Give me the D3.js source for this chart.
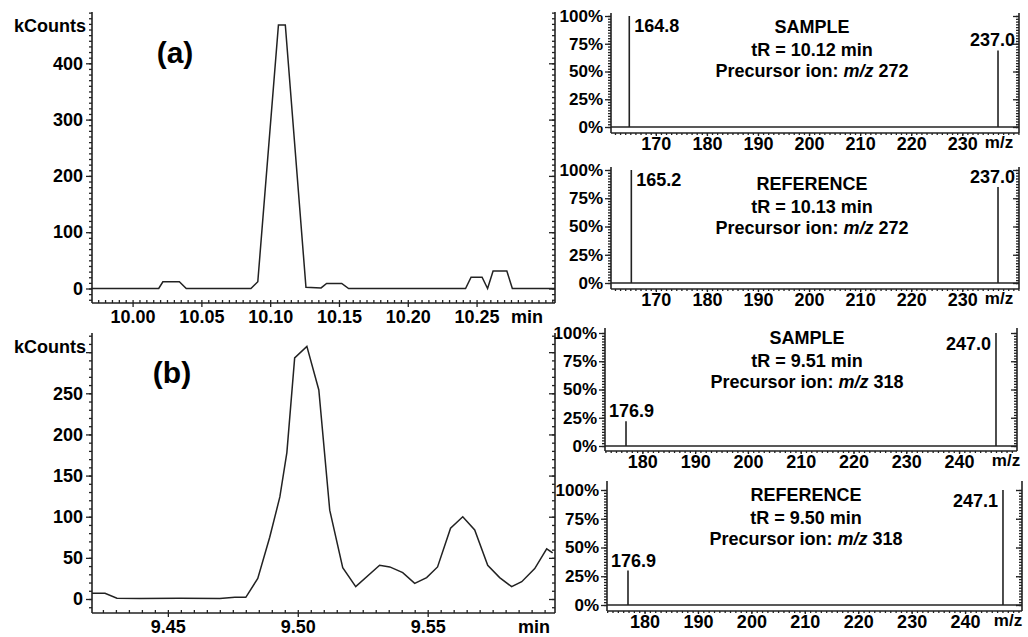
<!DOCTYPE html>
<html lang="en">
<head>
<meta charset="UTF-8">
<title>Chromatograms and MS/MS spectra</title>
<script src="https://d3js.org/d3.v7.min.js"></script>
<style>
  body { margin: 0; background: #fff; }
  svg { font-family: "Liberation Sans", Arial, sans-serif; font-weight: bold; }
  .axis text { font-size: 18px; font-weight: bold; fill: #000; font-family: "Liberation Sans", Arial, sans-serif; }
  .axis line { stroke: #222; stroke-width: 1.3; }
  .pct text { font-size: 17px; }
  .spine { stroke: #222; stroke-width: 1.6; }
  .trace { fill: none; stroke: #222; stroke-width: 1.5; }
  .stick { stroke: #222; stroke-width: 1.6; }
  .lbl { font-size: 18px; fill: #000; }
</style>
</head>
<body>
<svg id="chart" width="1028" height="637"></svg>
<script>
// ---- chromatogram (a) ----
const chromA_time = [9.970, 10.019, 10.022, 10.034, 10.039, 10.086, 10.091, 10.106, 10.111, 10.126,
                     10.137, 10.141, 10.152, 10.157, 10.242, 10.246, 10.254, 10.258, 10.262, 10.272, 10.276, 10.307];
const chromA_kcounts = [0, 0, 12, 12, 0, 0, 12, 468, 468, 2,
                        1, 9, 9, 0, 0, 20, 20, 0, 31, 31, 0, 0];
const chromA_xticks = [10.00, 10.05, 10.10, 10.15, 10.20, 10.25];
const chromA_yticks = [0, 100, 200, 300, 400];

// ---- chromatogram (b) ----
const chromB_time = [9.4208, 9.4258, 9.4304, 9.4392, 9.4546, 9.4700, 9.4758, 9.4800, 9.4846, 9.4892,
                     9.4931, 9.4958, 9.4988, 9.5035, 9.5081, 9.5123, 9.5173, 9.5223, 9.5315, 9.5354,
                     9.5404, 9.5450, 9.5496, 9.5538, 9.5588, 9.5635, 9.5681, 9.5731, 9.5777, 9.5823,
                     9.5862, 9.5912, 9.5958, 9.5981];
const chromB_kcounts = [7, 7, 1, 0.5, 1, 0.5, 2, 2, 25, 75,
                        124, 178, 293, 307, 254, 108, 38, 15, 41, 39,
                        32, 19, 26, 39, 86, 100, 84, 41, 26, 15,
                        21, 37, 61, 56];
const chromB_xticks = [9.45, 9.50, 9.55];
const chromB_yticks = [0, 50, 100, 150, 200, 250, 300];

// ---- MS/MS spectra ----
const spec1_mz = [164.8, 237.0], spec1_int = [100, 69];
const spec2_mz = [165.2, 237.0], spec2_int = [100, 85];
const spec3_mz = [176.9, 247.0], spec3_int = [22, 100];
const spec4_mz = [176.9, 247.1], spec4_int = [30, 100];
const specA_xticks = [170, 180, 190, 200, 210, 220, 230];
const specB_xticks = [180, 190, 200, 210, 220, 230, 240];
const spec_yticks = [0, 25, 50, 75, 100];
const spec1_text = ["SAMPLE", "tR = 10.12 min", "272"];
const spec2_text = ["REFERENCE", "tR = 10.13 min", "272"];
const spec3_text = ["SAMPLE", "tR = 9.51 min", "318"];
const spec4_text = ["REFERENCE", "tR = 9.50 min", "318"];

const svg = d3.select("#chart");

function line(g, x1, y1, x2, y2) {
  g.append("line").attr("class", "spine")
    .attr("x1", x1).attr("y1", y1).attr("x2", x2).attr("y2", y2);
}

function stripDomain(sel) { sel.select(".domain").remove(); }

function drawChrom(o, times, vals, xticks, yticks, tag) {
  const g = svg.append("g");
  const x = d3.scaleLinear().domain(o.xDomain).range([o.L, o.R]);
  const y = d3.scaleLinear().domain([0, o.yRef]).range([o.zeroY, o.yRefPx]);
  const yTop = y.invert(o.T), yBot = y.invert(o.B);

  // minor ticks
  g.append("g").attr("class", "axis").attr("transform", `translate(${o.L},0)`)
    .call(d3.axisLeft(y).tickValues(d3.range(Math.ceil(yBot / 10) * 10, yTop, 10)).tickFormat("").tickSize(3))
    .call(stripDomain);
  g.append("g").attr("class", "axis").attr("transform", `translate(${o.R},0)`)
    .call(d3.axisRight(y).tickValues(d3.range(Math.ceil(yBot / 10) * 10, yTop, 10)).tickFormat("").tickSize(-3))
    .call(stripDomain);
  g.append("g").attr("class", "axis").attr("transform", `translate(0,${o.B})`)
    .call(d3.axisBottom(x).tickValues(d3.range(Math.ceil(o.xDomain[0] / 0.005) * 0.005, o.xDomain[1], 0.005)).tickFormat("").tickSize(-3))
    .call(stripDomain);

  // major ticks + labels
  g.append("g").attr("class", "axis").attr("transform", `translate(${o.L},0)`)
    .call(d3.axisLeft(y).tickValues(yticks).tickFormat(d => d > o.maxLabel ? "" : d).tickSize(6).tickPadding(3))
    .call(stripDomain);
  g.append("g").attr("class", "axis").attr("transform", `translate(${o.R},0)`)
    .call(d3.axisRight(y).tickValues(yticks).tickFormat("").tickSize(-6))
    .call(stripDomain);
  g.append("g").attr("class", "axis").attr("transform", `translate(0,${o.B})`)
    .call(d3.axisBottom(x).tickValues(xticks).tickFormat(d3.format(".2f")).tickSize(4).tickPadding(3))
    .call(stripDomain);

  line(g, o.L, o.T, o.L, o.B);
  line(g, o.R, o.T, o.R, o.B);
  line(g, o.L, o.B, o.R, o.B);

  g.append("path").attr("class", "trace")
    .attr("d", d3.line().x((d, i) => x(times[i])).y(d => y(d))(vals));

  g.append("text").attr("class", "lbl").attr("x", o.L - 6).attr("y", o.T + 20)
    .attr("text-anchor", "end").text("kCounts");
  g.append("text").attr("class", "lbl").attr("x", o.minX).attr("y", o.B + 20)
    .attr("text-anchor", "middle").text("min");
  g.append("text").attr("x", o.tagX).attr("y", o.tagY).attr("text-anchor", "middle")
    .style("font-size", "30px").text(tag);
}

function drawSpec(o, mz, inten, xticks, texts, places) {
  const g = svg.append("g");
  const x = d3.scaleLinear().domain(o.xDomain).range([o.L, o.R]);
  const y = d3.scaleLinear().domain([0, 100]).range([o.zeroY, o.fullY]);

  // minor ticks
  const minorY = d3.range(0, 100.1, 2.5);
  g.append("g").attr("class", "axis").attr("transform", `translate(${o.L},0)`)
    .call(d3.axisLeft(y).tickValues(minorY).tickFormat("").tickSize(3)).call(stripDomain);
  g.append("g").attr("class", "axis").attr("transform", `translate(${o.R},0)`)
    .call(d3.axisRight(y).tickValues(minorY).tickFormat("").tickSize(-3)).call(stripDomain);
  g.append("g").attr("class", "axis").attr("transform", `translate(0,${o.B})`)
    .call(d3.axisBottom(x).tickValues(d3.range(Math.ceil(o.xDomain[0]), o.xDomain[1], 1)).tickFormat("").tickSize(2))
    .call(stripDomain);

  // major ticks + labels
  g.append("g").attr("class", "axis pct").attr("transform", `translate(${o.L},0)`)
    .call(d3.axisLeft(y).tickValues(spec_yticks).tickFormat(d => d + "%").tickSize(6).tickPadding(2))
    .call(stripDomain);
  g.append("g").attr("class", "axis").attr("transform", `translate(${o.R},0)`)
    .call(d3.axisRight(y).tickValues(spec_yticks).tickFormat("").tickSize(-6)).call(stripDomain);
  g.append("g").attr("class", "axis").attr("transform", `translate(0,${o.B})`)
    .call(d3.axisBottom(x).tickValues(xticks).tickSize(3).tickPadding(1))
    .call(stripDomain);

  line(g, o.L, o.T, o.L, o.B);
  line(g, o.R, o.T, o.R, o.B);
  line(g, o.L, o.B, o.R, o.B);
  line(g, o.L, y(0), o.R, y(0));

  g.append("text").attr("class", "lbl").attr("x", o.mzX).attr("y", o.B + 15)
    .attr("text-anchor", "middle").style("font-size", "17px").text("m/z");

  mz.forEach((m, i) => {
    const px = x(m), top = y(inten[i]);
    g.append("line").attr("class", "stick")
      .attr("x1", px).attr("x2", px).attr("y1", y(0)).attr("y2", top);
    const t = g.append("text").attr("class", "lbl").text(m.toFixed(1));
    const w = t.node().getComputedTextLength();
    let tx, ty;
    if (places[i] === "right") { tx = px + 5; ty = top + 16; }
    else if (places[i] === "left") { tx = px - 5 - w; ty = top + 17; }
    else {
      tx = Math.max(o.L + 4, Math.min(o.R - 4 - w, px - w / 2));
      ty = top - 4;
    }
    t.attr("x", tx).attr("y", ty);
  });

  const cx = o.textX;
  g.append("text").attr("class", "lbl").attr("x", cx).attr("y", o.textY)
    .attr("text-anchor", "middle").text(texts[0]);
  g.append("text").attr("class", "lbl").attr("x", cx).attr("y", o.textY + 23)
    .attr("text-anchor", "middle").text(texts[1]);
  const p = g.append("text").attr("class", "lbl").attr("x", cx).attr("y", o.textY + 44)
    .attr("text-anchor", "middle");
  p.append("tspan").text("Precursor ion: ");
  p.append("tspan").style("font-style", "italic").text("m/z");
  p.append("tspan").text(" " + texts[2]);
}

drawChrom({ xDomain: [9.9705, 10.307], L: 92, R: 555, T: 12, B: 303,
            yRef: 400, zeroY: 288.5, yRefPx: 63.3, maxLabel: 400, minX: 527, tagX: 175, tagY: 63 },
          chromA_time, chromA_kcounts, chromA_xticks, chromA_yticks, "(a)");
drawChrom({ xDomain: [9.4208, 9.599], L: 92, R: 555, T: 333, B: 613,
            yRef: 250, zeroY: 599, yRefPx: 393.3, maxLabel: 250, minX: 534, tagX: 172, tagY: 383 },
          chromB_time, chromB_kcounts, chromB_xticks, chromB_yticks, "(b)");

drawSpec({ xDomain: [161.22, 241.11], L: 611, R: 1019, T: 13, B: 133, zeroY: 127, fullY: 16,
           mzX: 999, textX: 812, textY: 33 },
         spec1_mz, spec1_int, specA_xticks, spec1_text, ["right", "above"]);
drawSpec({ xDomain: [161.22, 241.11], L: 611, R: 1019, T: 167, B: 289, zeroY: 283, fullY: 170,
           mzX: 999, textX: 812, textY: 190 },
         spec2_mz, spec2_int, specA_xticks, spec2_text, ["right", "above"]);
drawSpec({ xDomain: [172.92, 250.98], L: 605, R: 1017, T: 328, B: 451, zeroY: 446, fullY: 333,
           mzX: 1006, textX: 807, textY: 344 },
         spec3_mz, spec3_int, specB_xticks, spec3_text, ["above", "left"]);
drawSpec({ xDomain: [172.97, 250.66], L: 607, R: 1022, T: 481, B: 611, zeroY: 605, fullY: 490,
           mzX: 1008, textX: 806, textY: 501 },
         spec4_mz, spec4_int, specB_xticks, spec4_text, ["above", "left"]);
</script>
</body>
</html>
